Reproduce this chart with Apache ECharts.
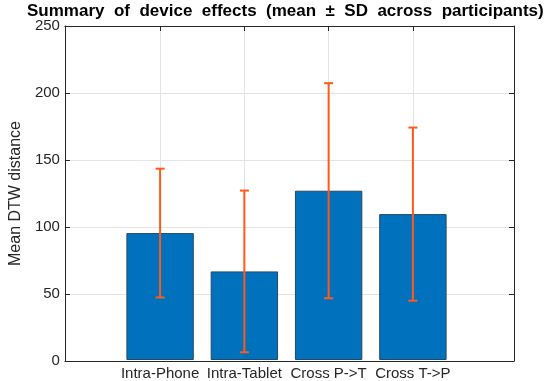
<!DOCTYPE html>
<html>
<head>
<meta charset="utf-8">
<script src="https://cdn.jsdelivr.net/npm/echarts@6/dist/echarts.min.js"></script>
<style>html,body{margin:0;padding:0;background:#fff}#c{width:550px;height:381px}</style>
</head>
<body>
<div id="c"></div>
<script>
var titleText = 'Summary  of  device  effects  (mean  \u00B1  SD  across  participants)';
var yAxisTitle = 'Mean DTW distance';
var categories = ['Intra-Phone', 'Intra-Tablet', 'Cross P->T', 'Cross T->P'];
var means = [95, 66.3, 126.7, 109.2];
var sds = [48.2, 60.5, 80.5, 64.8];
var yTicks = [0, 50, 100, 150, 200, 250];

var FONT = '"Liberation Sans", Arial, sans-serif';
var TXT = '#262626';
var GRIDC = '#e3e3e3';

var barData = categories.map(function (c, i) { return [i + 1, means[i]]; });
var errData = categories.map(function (c, i) { return [i + 1, means[i] - sds[i], means[i] + sds[i]]; });

var chart = echarts.init(document.getElementById('c'), null, {renderer: 'canvas'});
chart.setOption({
  animation: false,
  backgroundColor: '#fff',
  title: {
    text: titleText, left: 22, top: -2,
    textStyle: {fontFamily: FONT, fontSize: 17, fontWeight: 'bold', color: '#000'}
  },
  grid: [
    {left: 59, right: 36, top: 26, bottom: 20},
    {left: 160.1, right: 137.1, top: 26, bottom: 20}
  ],
  xAxis: [
    {gridIndex: 0, type: 'value', min: 0, max: 1, position: 'bottom', z: 5,
      axisLine: {show: true, onZero: false, lineStyle: {color: TXT, width: 1}},
      axisTick: {show: false}, axisLabel: {show: false}, splitLine: {show: false}},
    {gridIndex: 1, type: 'value', min: 1, max: 4, interval: 1, position: 'bottom', z: 0,
      axisLine: {show: false, onZero: false},
      axisTick: {show: true, inside: true, length: 5, lineStyle: {color: TXT}},
      axisLabel: {show: true, margin: 6, color: TXT, fontFamily: FONT, fontSize: 15,
        formatter: function (v) { return categories[Math.round(v) - 1] || ''; }},
      splitLine: {show: true, lineStyle: {color: GRIDC, width: 1}}},
    {gridIndex: 1, type: 'value', min: 1, max: 4, interval: 1, position: 'top', z: 0,
      axisLine: {show: false, onZero: false},
      axisTick: {show: true, inside: true, length: 5, lineStyle: {color: TXT}},
      axisLabel: {show: false}, splitLine: {show: false}},
    {gridIndex: 0, type: 'value', min: 0, max: 1, position: 'top', z: 5,
      axisLine: {show: true, onZero: false, lineStyle: {color: TXT, width: 1}},
      axisTick: {show: false}, axisLabel: {show: false}, splitLine: {show: false}}
  ],
  yAxis: [
    {gridIndex: 0, type: 'value', min: yTicks[0], max: yTicks[yTicks.length - 1], interval: 50, position: 'left', z: 0,
      name: yAxisTitle, nameLocation: 'middle', nameGap: 39, nameRotate: 90,
      nameTextStyle: {fontFamily: FONT, fontSize: 16, color: TXT},
      axisLine: {show: true, onZero: false, lineStyle: {color: TXT, width: 1}},
      axisTick: {show: true, inside: true, length: 5, lineStyle: {color: TXT}},
      axisLabel: {show: true, margin: 5, color: TXT, fontFamily: FONT, fontSize: 15},
      splitLine: {show: true, lineStyle: {color: GRIDC, width: 1}}},
    {gridIndex: 1, type: 'value', min: yTicks[0], max: yTicks[yTicks.length - 1], interval: 50, show: false},
    {gridIndex: 0, type: 'value', min: yTicks[0], max: yTicks[yTicks.length - 1], interval: 50, position: 'right', z: 0,
      axisLine: {show: true, onZero: false, lineStyle: {color: TXT, width: 1}},
      axisTick: {show: true, inside: true, length: 5, lineStyle: {color: TXT}},
      axisLabel: {show: false}, splitLine: {show: false}}
  ],
  series: [
    {type: 'bar', xAxisIndex: 1, yAxisIndex: 1, data: barData, barWidth: 67.4, clip: false,
      itemStyle: {color: '#0072BD', borderColor: '#24486c', borderWidth: 1}, z: 2},
    {type: 'custom', xAxisIndex: 1, yAxisIndex: 1, data: errData, z: 3, clip: false,
      renderItem: function (params, api) {
        var x = api.value(0);
        var lo = api.coord([x, api.value(1)]);
        var hi = api.coord([x, api.value(2)]);
        var hw = 4.5;
        var st = {stroke: '#FF5A1A', lineWidth: 2};
        return {type: 'group', children: [
          {type: 'line', shape: {x1: lo[0], y1: lo[1], x2: hi[0], y2: hi[1]}, style: st},
          {type: 'line', shape: {x1: lo[0] - hw, y1: lo[1], x2: lo[0] + hw, y2: lo[1]}, style: st},
          {type: 'line', shape: {x1: hi[0] - hw, y1: hi[1], x2: hi[0] + hw, y2: hi[1]}, style: st}
        ]};
      }}
  ]
});
</script>
</body>
</html>
